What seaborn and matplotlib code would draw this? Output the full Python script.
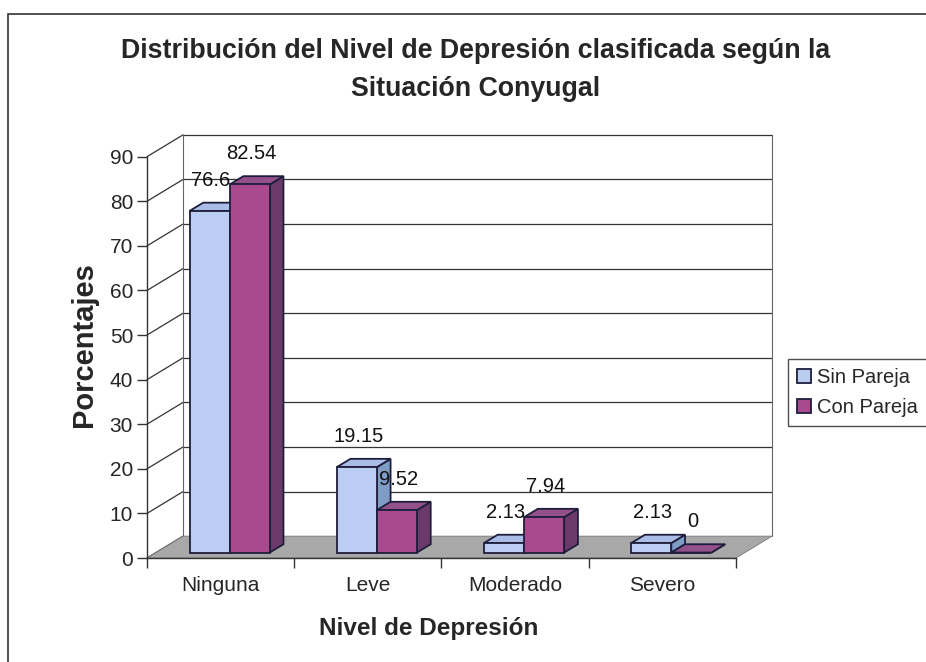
import matplotlib
matplotlib.use("Agg")
import matplotlib.pyplot as plt
from matplotlib.patches import Polygon, Patch, Rectangle
import pandas as pd
import seaborn as sns

# data
categories = ["Ninguna", "Leve", "Moderado", "Severo"]
series = ["Sin Pareja", "Con Pareja"]
sin_pareja = [76.6, 19.15, 2.13, 2.13]
con_pareja = [82.54, 9.52, 7.94, 0]
labels_sin = ["76.6", "19.15", "2.13", "2.13"]
labels_con = ["82.54", "9.52", "7.94", "0"]
y_ticks = list(range(0, 100, 10))

df = pd.DataFrame({
    "Nivel": categories * 2,
    "Grupo": [series[0]] * 4 + [series[1]] * 4,
    "Valor": sin_pareja + con_pareja,
    "Texto": labels_sin + labels_con,
})

# colours: front face, top face, side face
faces = {
    "Sin Pareja": ("#BCCDF3", "#A9BDE6", "#7E9CC4"),
    "Con Pareja": ("#AA4A8E", "#94508A", "#6C3A6A"),
}
edge = "#1E1E3C"

# pseudo 3D depth (data units)
DX, DY = 0.245, 4.9
bar_front, bar_back = 0.25, 0.63

sns.set_style("white")
plt.rcParams["font.family"] = ["Liberation Sans", "DejaVu Sans"]

fig = plt.figure(figsize=(9.26, 6.62), dpi=100)
ax = fig.add_axes([147 / 926, 1 - 558 / 662, 625 / 926, (558 - 133.5) / 662])

sns.barplot(data=df, x="Nivel", y="Valor", hue="Grupo", order=categories,
            hue_order=series, palette=[faces[s][0] for s in series],
            width=0.545, ax=ax, legend=False, saturation=1)

ax.set_xlim(-0.5, 3.5 + DX)
ax.set_ylim(0, 90 + DY + 0.3)

# back wall grid, side wall diagonals and floor
x0, x1 = -0.5, 3.5
for v in y_ticks:
    ax.plot([x0, x0 + DX], [v, v + DY], color="#333333", lw=0.9, zorder=0.5, clip_on=False)
    if v > 0:
        ax.plot([x0 + DX, x1 + DX], [v + DY, v + DY], color="#333333", lw=0.9, zorder=0.5, clip_on=False)
ax.plot([x0 + DX, x0 + DX], [DY, 90 + DY], color="#666666", lw=0.8, zorder=0.5)
ax.plot([x1 + DX, x1 + DX], [DY, 90 + DY], color="#666666", lw=0.8, zorder=0.5, clip_on=False)
ax.add_patch(Polygon([(x0, 0), (x1, 0), (x1 + DX, DY), (x0 + DX, DY)],
                     closed=True, facecolor="#A8A8A8", edgecolor="#777777", lw=0.6, zorder=1))

# turn the flat bars into boxes
bars = sorted(ax.patches[:len(df)], key=lambda p: p.get_x())
order = sorted(range(len(df)), key=lambda i: categories.index(df["Nivel"][i]) * 2 + series.index(df["Grupo"][i]))
for k, (p, i) in enumerate(zip(bars, order)):
    front, top, side = faces[df["Grupo"][i]]
    h = df["Valor"][i]
    x = p.get_x() + bar_front * DX
    y = bar_front * DY
    w = p.get_width()
    ddx, ddy = (bar_back - bar_front) * DX, (bar_back - bar_front) * DY
    z = 2 + k * 0.1
    p.set_x(x)
    p.set_y(y)
    p.set_edgecolor(edge)
    p.set_linewidth(1.3)
    p.set_zorder(z + 0.05)
    ax.add_patch(Polygon([(x + w, y), (x + w + ddx, y + ddy), (x + w + ddx, y + h + ddy), (x + w, y + h)],
                         closed=True, facecolor=side, edgecolor=edge, lw=1.3, zorder=z))
    ax.add_patch(Polygon([(x, y + h), (x + w, y + h), (x + w + ddx, y + h + ddy), (x + ddx, y + h + ddy)],
                         closed=True, facecolor=top, edgecolor=edge, lw=1.3, zorder=z))
    ax.annotate(df["Texto"][i], (x + w / 2, y + h), xytext=(1, 22), textcoords="offset points",
                ha="center", va="center", fontsize=14.5, color="#111111", zorder=10)

# axes and ticks
sns.despine(ax=ax, top=True, right=True)
ax.spines["bottom"].set_bounds(x0, x1)
ax.spines["left"].set_bounds(0, 90)
for s in ("bottom", "left"):
    ax.spines[s].set_color("#333333")
    ax.spines[s].set_linewidth(1.0)
ax.set_yticks(y_ticks)
ax.tick_params(axis="y", length=7, width=1, color="#333333", labelsize=15, pad=3, left=True)
ax.set_xticks(range(len(categories)))
ax.set_xticklabels(categories)
ax.set_xticks([x0 + i for i in range(5)], minor=True)
ax.tick_params(axis="x", which="major", length=0, labelsize=15, pad=13)
ax.tick_params(axis="x", which="minor", length=7, width=1, color="#333333", bottom=True)

ax.set_xlabel("Nivel de Depresión", fontsize=17.5, fontweight="bold")
ax.xaxis.set_label_coords((429 - 147) / 625, -(617 - 558) / 424.5)
ax.set_ylabel("Porcentajes", fontsize=21, fontweight="bold")
ax.yaxis.set_label_coords(-(147 - 98) / 625, (558 - 345) / (558 - 133.5))

fig.text(0.514, 0.942, "Distribución del Nivel de Depresión clasificada según la\nSituación Conyugal",
         ha="center", va="top", fontsize=19.3, fontweight="bold", linespacing=1.6)

handles = [Patch(facecolor=faces[s][0], edgecolor=edge, lw=1.3) for s in series]
fig.legend(handles, series, loc="upper left", bbox_to_anchor=(788 / 926, 1 - 359 / 662),
           fontsize=14.5, frameon=True, fancybox=False, edgecolor="#222222",
           handlelength=0.7, handleheight=0.7, handletextpad=0.3, borderpad=0.45,
           labelspacing=0.55, borderaxespad=0)

# outer frame of the chart
fig.add_artist(Rectangle((8 / 926, -0.01), 1.0, 1 - 14 / 662 + 0.01, transform=fig.transFigure,
                         fill=False, edgecolor="#333333", lw=1.2))

fig.savefig("out.png", dpi=100, facecolor="white")
